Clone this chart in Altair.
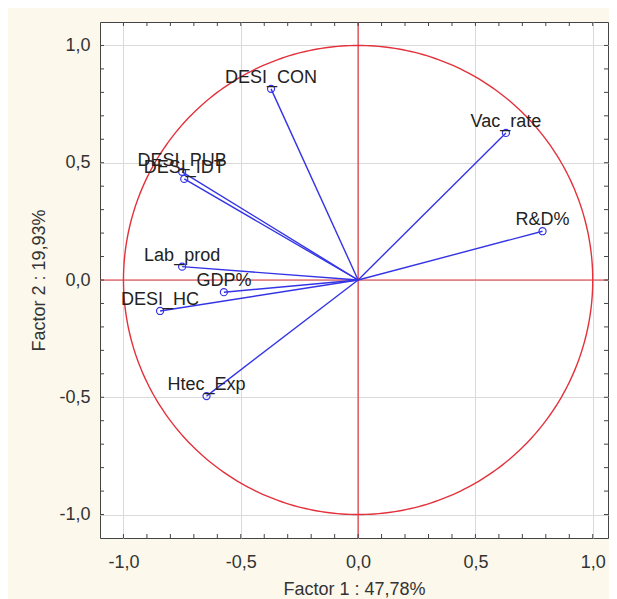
import altair as alt
import pandas as pd
import numpy as np

names = ["DESI_CON", "Vac_rate", "R&D%", "DESI_PUB", "DESI_IDT", "Lab_prod", "GDP%", "DESI_HC", "Htec_Exp"]
f1 = [-0.371, 0.630, 0.786, -0.750, -0.741, -0.750, -0.572, -0.844, -0.646]
f2 = [0.815, 0.627, 0.208, 0.461, 0.431, 0.057, -0.052, -0.132, -0.495]
tick_vals = [round(-1.0 + 0.1 * i, 1) for i in range(21)]
major_vals = [-1.0, -0.5, 0.0, 0.5, 1.0]
x_title = "Factor 1 : 47,78%"
y_title = "Factor 2 : 19,93%"

W, H = 508, 516
FONT = "Liberation Sans"
BLUE = "#3434e6"
RED = "#e3323c"

pts = pd.DataFrame({"name": names, "x": f1, "y": f2})
ang = np.linspace(0, 2 * np.pi, 361)
circ = pd.DataFrame({"i": np.arange(len(ang)), "x": np.cos(ang), "y": np.sin(ang)})
ticks = pd.DataFrame({"v": tick_vals})
zero = pd.DataFrame({"z": [0.0]})

xs = alt.Scale(domain=[-1.1, 1.065], nice=False, zero=False)
ys = alt.Scale(domain=[-1.1, 1.1], nice=False, zero=False)
lab = "(datum.value < 0 ? '-' : '') + replace(format(abs(datum.value), '.1f'), '.', ',')"
XA = alt.Axis(values=major_vals, labelExpr=lab, tickSize=0, ticks=False, labelPadding=15,
              titlePadding=9, grid=True, domain=False)
YA = alt.Axis(values=major_vals, labelExpr=lab, tickSize=0, ticks=False, labelPadding=10,
              titlePadding=10, grid=True, domain=False)

def X(f):
    return alt.X(f, type="quantitative", scale=xs, axis=XA, title=x_title)

def Y(f):
    return alt.Y(f, type="quantitative", scale=ys, axis=YA, title=y_title)

circle = alt.Chart(circ).mark_line(color=RED, strokeWidth=1.4).encode(x=X("x"), y=Y("y"), order="i:Q")
vline = alt.Chart(zero).mark_rule(color=RED, strokeWidth=1.2).encode(x=X("z"))
hline = alt.Chart(zero).mark_rule(color=RED, strokeWidth=1.2).encode(y=Y("z"))

tb = alt.Chart(ticks).mark_rule(color="#444", strokeWidth=1).encode(x=X("v"), y=alt.value(H), y2=alt.value(H - 4))
tt = alt.Chart(ticks).mark_rule(color="#444", strokeWidth=1).encode(x=X("v"), y=alt.value(0), y2=alt.value(4))
tl = alt.Chart(ticks).mark_rule(color="#444", strokeWidth=1).encode(y=Y("v"), x=alt.value(0), x2=alt.value(4))
tr = alt.Chart(ticks).mark_rule(color="#444", strokeWidth=1).encode(y=Y("v"), x=alt.value(W), x2=alt.value(W - 4))

vec = alt.Chart(pts).mark_rule(color=BLUE, strokeWidth=1.4).encode(
    x=X("x"), y=Y("y"), x2=alt.datum(0), y2=alt.datum(0))
dots = alt.Chart(pts).mark_point(color=BLUE, size=50, strokeWidth=1.2, filled=False, opacity=1).encode(
    x=X("x"), y=Y("y"))
labels = alt.Chart(pts).mark_text(font=FONT, fontSize=18, color="#222", align="center",
                                  baseline="alphabetic", dy=-6).encode(
    x=X("x"), y=Y("y"), text="name:N")

chart = alt.layer(circle, vline, hline, tb, tt, tl, tr, vec, dots, labels).properties(
    width=W, height=H,
    autosize=alt.AutoSizeParams(type="none"),
    padding={"left": 92, "top": 14, "right": 1, "bottom": 61},
    background="#fcf8ec",
).configure_view(fill="white", stroke="#444", strokeWidth=1).configure_axis(
    labelFont=FONT, labelFontSize=18, labelColor="#333", titleFont=FONT, titleFontSize=18,
    titleFontWeight="normal", titleColor="#333", gridColor="#dadada", gridWidth=1
)

chart.save("out.html", embed_options={"renderer": "svg", "actions": False})
